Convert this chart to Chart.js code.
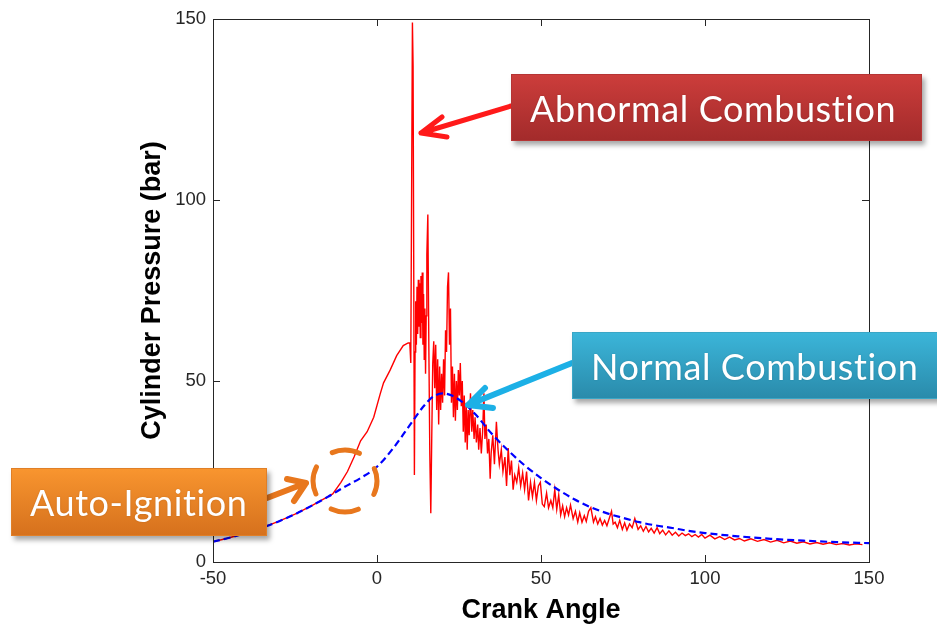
<!DOCTYPE html>
<html>
<head>
<meta charset="utf-8">
<script src="https://cdn.jsdelivr.net/npm/chart.js@4.4.1/dist/chart.umd.min.js"></script>
<style>
  body { margin: 0; background: #fff; overflow: hidden; }
  #wrap { position: relative; width: 937px; height: 626px; overflow: hidden; }
  #chart { position: absolute; left: 0; top: 0; }
  #marks { position: absolute; left: 0; top: 0; }
  .callout {
    position: absolute; box-sizing: border-box; color: #fff;
    font-family: Lato, "Open Sans", sans-serif; font-size: 36px;
    font-variant-ligatures: none; letter-spacing: 0.6px;
    display: flex; align-items: center; white-space: nowrap;
    box-shadow: 3px 4px 5px rgba(0,0,0,0.35);
    text-shadow: 0 0 2px rgba(0,0,0,0.15);
  }
  #abn { left: 511px; top: 74px; width: 411px; height: 67px; padding-left: 18px;
    background: linear-gradient(#cc3d3b, #a32b2b); border: 1px solid #b53434; }
  #nrm { left: 572px; top: 332px; width: 380px; height: 67px; padding-left: 18px;
    background: linear-gradient(#3bb5d9, #2a8bab); border: 1px solid #3aa6c6; }
  #aut { left: 11px; top: 468px; width: 256px; height: 68px; padding-left: 18px;
    background: linear-gradient(#f8952f, #d6711d); border: 1px solid #e07f27; }
</style>
</head>
<body>
<div id="wrap">
  <canvas id="chart" width="937" height="626"></canvas>
  <svg id="marks" width="937" height="626">
    <g fill="none" stroke-linecap="round" stroke-linejoin="round">
      <path d="M511 106 L421 133 M442 117 L421 133 L447 137" stroke="#ff1a1a" stroke-width="5"/>
      <path d="M572 363 L468 405 M485 388 L468 405 L493 408" stroke="#1cb0e6" stroke-width="6"/>
      <path d="M267 498 L306 483 M287 479 L306 483 L294 501" stroke="#e8771d" stroke-width="6"/>
      <ellipse cx="345" cy="481" rx="32" ry="31" stroke="#e8771d" stroke-width="5"
               stroke-dasharray="28 21.7" stroke-dashoffset="14"/>
    </g>
  </svg>
  <div class="callout" id="abn">Abnormal Combustion</div>
  <div class="callout" id="nrm">Normal Combustion</div>
  <div class="callout" id="aut">Auto-Ignition</div>
</div>
<script>
// courbe normale (pointillés bleus)
const normalAngle = [-50, -45, -40, -35, -30, -25, -20, -15, -10, -5, 0, 5, 10, 14, 17, 20, 23, 26, 30, 35, 40, 45, 50, 55, 60, 65, 70, 75, 80, 85, 90, 95, 100, 110, 120, 130, 140, 150];
const normalPressure = [5.6, 6.7, 8, 9.5, 11.2, 13.2, 15.5, 18, 20.7, 23.2, 26.3, 31.5, 37.8, 42.8, 45.6, 46.6, 45.9, 44.2, 40.8, 35.4, 30.8, 26.7, 23.2, 20.1, 17.4, 15.2, 13.5, 12.2, 11, 10.1, 9.4, 8.6, 8, 7.1, 6.4, 5.9, 5.5, 5.2];

// courbe avec cliquetis (rouge)
const knockAngle = [-50, -45, -40, -35, -30, -25, -20, -17, -13.5, -11, -9, -7, -5, -3, -1, 1, 2, 4, 6, 8, 9.5,
  10.0, 10.3, 10.8, 11.0, 11.4, 11.6, 11.8, 12.0, 12.2, 12.4, 12.6, 12.8, 13.0, 13.2, 13.4, 13.6, 13.8, 14.0, 14.2,
  14.4, 14.6, 14.8, 15.0, 15.2, 15.5, 15.8, 16.1, 16.4, 16.7, 17.0, 17.3, 17.6, 17.9, 18.2, 18.5, 18.8, 19.1, 19.4,
  19.7, 20.0, 20.3, 20.6, 20.9, 21.2, 21.5, 21.8, 22.1, 22.4, 22.7, 23.0, 23.3, 23.6, 23.9, 24.2, 24.5, 24.8, 25.1,
  25.4, 25.7, 26.0, 26.3, 26.6, 26.9, 27.2, 27.5, 27.8, 28.1, 28.5, 28.9, 29.2, 29.6, 29.9, 30.3, 30.7, 31.0, 31.4,
  31.8, 32.2, 32.6, 32.9, 33.3, 33.7, 34.1, 34.5, 34.8, 35.3, 35.8, 36.4, 36.9, 37.3, 37.9, 38.4, 39.0, 39.5, 40.0,
  40.5, 41.0, 41.5, 42.0, 42.6, 43.2, 43.8, 44.4, 45.0, 45.6, 46.2, 46.8, 47.4, 48.0, 48.6, 49.2, 49.8, 50.4, 51.0,
  51.7, 52.3, 53.0, 53.6, 54.2, 54.8, 55.4, 56.0, 56.6, 57.2, 57.8, 58.4, 59.0, 59.8, 60.5, 61.2, 61.8, 62.5, 63.2,
  63.8, 64.5, 65.2, 66.0, 66.6, 67.3, 68.0, 68.7, 69.4, 70.1, 70.8, 71.5, 72.0, 72.6, 73.3, 74.0, 74.8, 75.5, 76.2,
  77.0, 77.8, 78.6, 79.6, 80.4, 81.2, 82.0, 82.8, 83.6, 84.5, 85.4, 86.2, 87.1, 88.0, 89.0, 90.0, 91.0, 92.0, 93.0,
  94.0, 95.0, 96.0, 97.0, 98.0, 99.0, 100.0, 101.5, 103.0, 104.5, 106.0, 107.5, 109.0, 110.5, 112.0, 114.0, 116.0,
  118.0, 120.0, 122.0, 124.0, 126.0, 128.0, 130.0, 132.0, 134.0, 136.0, 138.0, 140.0, 142.0, 144.0, 146.0, 148.0, 150.0];
const knockPressure = [5.6, 6.7, 8, 9.5, 11.2, 13.2, 15.5, 17, 18.8, 22, 25, 29, 33.5, 36, 40, 46.5, 49.5, 53, 57, 59.8, 60.5,
  60.5, 55, 149, 137, 24, 58, 72, 60, 76, 63, 78, 65, 77, 62, 79, 66, 80, 60, 74,
  56, 70, 52, 68, 85, 96, 60, 30, 13.5, 35, 55, 61, 48, 60, 42, 56, 38, 54,
  42, 52, 44, 56, 46, 64, 58, 76, 80, 60, 70, 44, 54, 40, 52, 39, 50, 42, 53,
  46, 55, 43, 50, 36, 46, 33, 44, 31, 42, 35, 46.6, 36, 42, 34, 40, 33, 38, 31,
  37, 30, 36, 46.6, 34, 38, 30, 34, 23, 30, 35, 27, 38.7, 31, 27, 31, 25, 29, 21,
  31.5, 24, 28, 20, 24, 22, 26, 21, 24.6, 20, 25, 17, 22, 18, 22, 17, 21, 22, 16,
  15.3, 19, 15, 17, 15, 20, 14.5, 18.5, 13, 15.5, 12.5, 15, 13, 15.7, 12, 14, 11, 13.6, 11,
  12.8, 11.2, 14, 15, 11, 12.5, 10.5, 12, 10.2, 11.5, 10, 12, 14, 10.5, 11, 9.5, 11.5, 9, 10.8,
  8.8, 10.5, 9.5, 12, 9, 10, 8.5, 9.8, 8.3, 9.3, 8, 9.5, 7.8, 8.8, 7.5, 8.6, 7.4, 8.2, 7.2,
  8, 7.3, 7.8, 7, 7.6, 6.9, 7.6, 6.6, 7.4, 6.4, 7, 6.2, 6.9, 6.1, 6.5, 5.8, 6.4,
  5.7, 6.2, 5.5, 6, 5.3, 5.8, 5.2, 5.6, 5, 5.4, 4.9, 5.3, 4.8, 5.1, 4.7, 5, 4.8];

const xTicks = [-50, 0, 50, 100, 150];
const yTicks = [0, 50, 100, 150];

function toPoints(xs, ys) {
  return xs.map((x, i) => ({ x: x, y: ys[i] }));
}

// cadre et graduations vers l'intérieur, façon matlab
const frameTicks = {
  id: 'frameTicks',
  afterDraw(chart) {
    const { ctx, chartArea: a, scales } = chart;
    const len = 7;
    ctx.save();
    ctx.strokeStyle = '#262626';
    ctx.lineWidth = 1;
    ctx.strokeRect(a.left + 0.5, a.top + 0.5, a.right - a.left, a.bottom - a.top);
    ctx.beginPath();
    xTicks.forEach(v => {
      const px = Math.round(scales.x.getPixelForValue(v)) + 0.5;
      ctx.moveTo(px, a.bottom); ctx.lineTo(px, a.bottom - len);
      ctx.moveTo(px, a.top); ctx.lineTo(px, a.top + len);
    });
    yTicks.forEach(v => {
      const py = Math.round(scales.y.getPixelForValue(v)) + 0.5;
      ctx.moveTo(a.left, py); ctx.lineTo(a.left + len, py);
      ctx.moveTo(a.right, py); ctx.lineTo(a.right - len, py);
    });
    ctx.stroke();
    ctx.restore();
  }
};

const tickFont = { family: '"Liberation Sans", Arial, sans-serif', size: 18.5 };
const titleFont = { family: '"Liberation Sans", Arial, sans-serif', size: 27, weight: 'bold' };

new Chart(document.getElementById('chart'), {
  type: 'scatter',
  data: {
    datasets: [
      {
        label: 'Normal Combustion',
        data: toPoints(normalAngle, normalPressure),
        showLine: true,
        borderColor: '#0000ff',
        borderWidth: 2.2,
        borderDash: [7, 4],
        cubicInterpolationMode: 'monotone',
        pointRadius: 0
      },
      {
        label: 'Abnormal Combustion',
        data: toPoints(knockAngle, knockPressure),
        showLine: true,
        borderColor: '#ff0000',
        borderWidth: 1.4,
        pointRadius: 0
      }
    ]
  },
  options: {
    responsive: false,
    animation: false,
    layout: { padding: { left: 132, top: 19, right: 68, bottom: 0 } },
    plugins: { legend: { display: false }, tooltip: { enabled: false } },
    scales: {
      x: {
        type: 'linear', min: -50, max: 150,
        afterFit: s => { s.height = 64; },
        afterBuildTicks: s => { s.ticks = xTicks.map(v => ({ value: v })); },
        grid: { display: false, drawTicks: false },
        border: { display: false },
        ticks: { padding: 6, color: '#262626', font: tickFont },
        title: { display: true, text: 'Crank Angle', color: '#000', font: titleFont, padding: { top: 0, bottom: -1 } }
      },
      y: {
        type: 'linear', min: 0, max: 150,
        afterFit: s => { s.width = 81; },
        afterBuildTicks: s => { s.ticks = yTicks.map(v => ({ value: v })); },
        grid: { display: false, drawTicks: false },
        border: { display: false },
        ticks: { padding: 7, color: '#262626', font: tickFont },
        title: { display: true, text: 'Cylinder Pressure (bar)', color: '#000', font: titleFont, padding: { top: 4, bottom: 0 } }
      }
    }
  },
  plugins: [frameTicks]
});
</script>
</body>
</html>
